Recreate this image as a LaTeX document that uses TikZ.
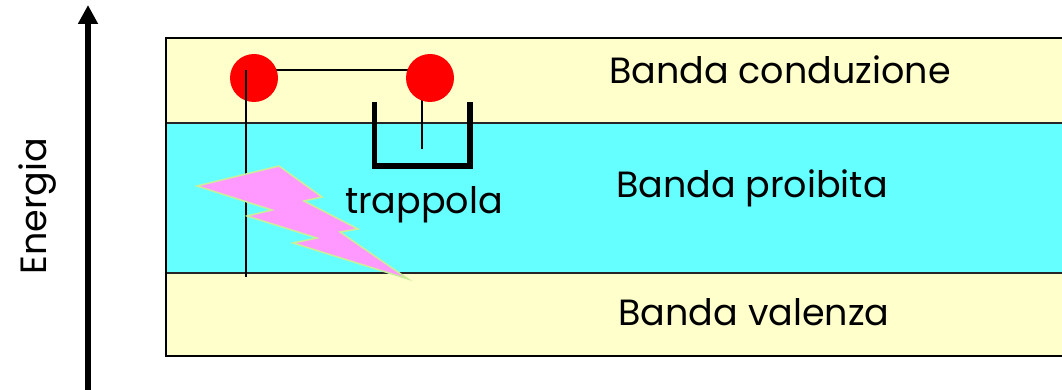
\documentclass[tikz,border=0pt]{standalone}
\usepackage{fontspec}
\setmainfont{Poppins}
\usetikzlibrary{arrows.meta}
\definecolor{bandY}{HTML}{FFFFCC}
\definecolor{bandC}{HTML}{66FFFF}
\definecolor{boltP}{HTML}{FF99FF}
\definecolor{boltE}{HTML}{CCEE99}
\begin{document}
\begin{tikzpicture}[x=1pt,y=-1pt,
  band/.style={draw=black!85,line width=1.5pt},
  electron/.style={circle,fill=red,minimum size=48pt,inner sep=0pt},
  wire/.style={line width=1.5pt},
  trap/.style={line width=5.5pt},
  lbl/.style={font=\fontsize{36.5}{36.5}\selectfont,anchor=base,inner sep=0pt}]
\clip (0,0) rectangle (1062,390);
\fill[white] (0,0) rectangle (1062,390);
% bands
\path[band,fill=bandY] (166,38) rectangle (1080,123);
\path[band,fill=bandC] (166,123) rectangle (1080,273);
\path[band,fill=bandY] (166,273) rectangle (1080,356);
\draw[line width=2pt] (166,38) rectangle (1080,356);
% energy axis
\coordinate (axb) at (88,392);
\coordinate (axt) at (88,5);
\draw[line width=5.5pt,-{Triangle[length=19pt 0 0,width=19pt 0 0]}] (axb) -- (axt);
\node[lbl,rotate=90] (en) at (46,206) {Energia};
% labels
\node[lbl] (cb) at (780,84) {Banda conduzione};
\node[lbl] (fb) at (752,197) {Banda proibita};
\node[lbl] (vb) at (754,325) {Banda valenza};
\node[lbl] (tr) at (424,213) {trappola};
% electrons and paths
\coordinate (c0) at (246,70);
\coordinate (c1) at (430,70);
\coordinate (c2) at (246,277);
\coordinate (t0) at (422,78);
\coordinate (t1) at (422,149);
\draw[wire] (c0) -- (c1);
\draw[wire] (t0) -- (t1);
\node[electron] (e1) at (254,78) {};
\node[electron] (e2) at (430,78) {};
\draw[wire] (c0) -- (c2);
% trap
\coordinate (p1) at (374.5,102);
\coordinate (p2) at (374.5,166);
\coordinate (p3) at (470,166);
\coordinate (p4) at (470,102);
\draw[trap,line join=miter] (p1) -- (p2) -- (p3) -- (p4);
% lightning
\draw[fill=boltP,draw=boltE,line width=1.5pt,line join=miter]
  (197,186) -- (279,166) -- (322,197) -- (304,201) -- (358,229) -- (340,232)
  -- (408,279) -- (293,243) -- (317,238) -- (247,216) -- (272,210) -- cycle;
\end{tikzpicture}
\end{document}
